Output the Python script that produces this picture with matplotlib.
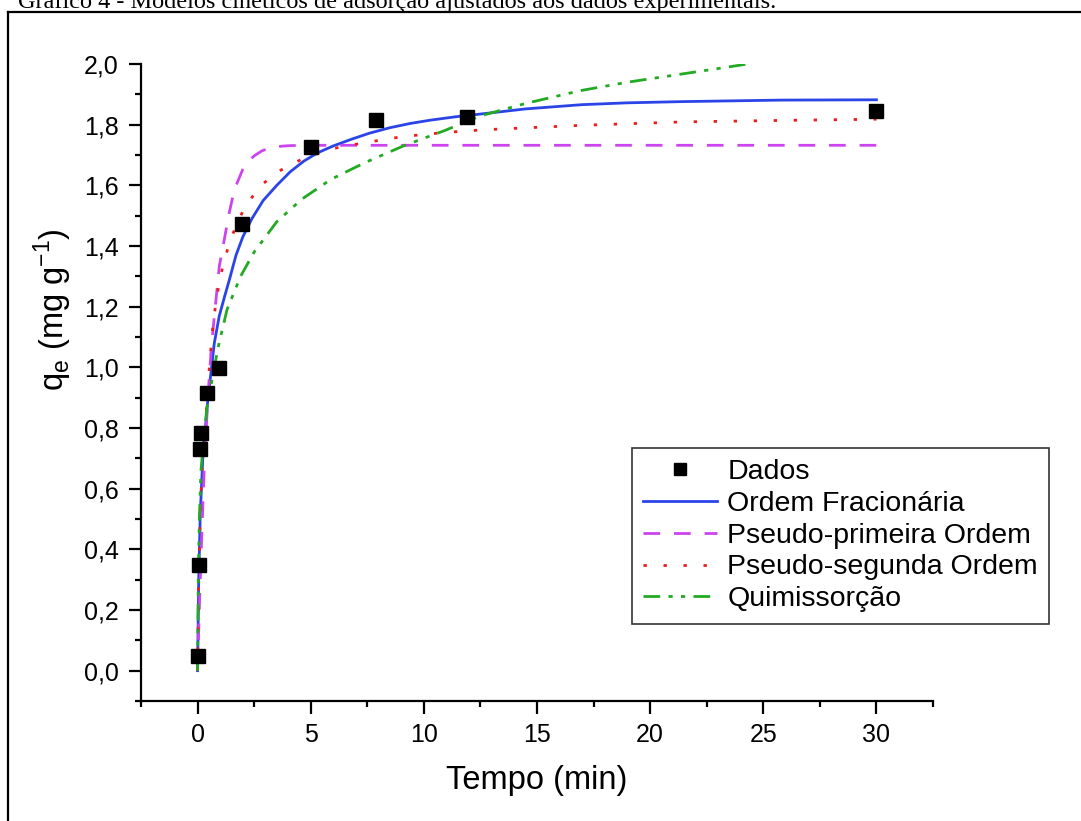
import matplotlib
matplotlib.use("Agg")
import matplotlib.pyplot as plt
from matplotlib.ticker import MultipleLocator, FuncFormatter
from matplotlib.lines import Line2D

plt.rcParams['font.family'] = ['Liberation Sans', 'DejaVu Sans']

# experimental points (tempo em min, qe em mg/g)
t_dados = [0, 0.05, 0.1, 0.17, 0.42, 0.93, 1.95, 5, 7.9, 11.9, 30]
q_dados = [0.05, 0.347, 0.73, 0.785, 0.917, 0.998, 1.471, 1.725, 1.815, 1.825, 1.845]

# model curves
t_frac = [0, 0.05, 0.12, 0.23, 0.45, 0.74, 0.96, 1.2, 1.41, 1.7, 2.0, 2.4, 2.9, 3.5, 4.1,
          4.7, 5.3, 6.0, 6.8, 7.6, 8.5, 9.4, 10.3, 11.4, 12.5, 14.5, 17, 19, 21.4, 25.8, 30]
q_frac = [0, 0.3, 0.52, 0.7, 0.89, 1.08, 1.17, 1.235, 1.29, 1.37, 1.43, 1.49, 1.55, 1.6,
          1.645, 1.68, 1.707, 1.73, 1.752, 1.772, 1.79, 1.804, 1.815, 1.826, 1.835, 1.852,
          1.866, 1.872, 1.876, 1.881, 1.882]

t_pfo = [0, 0.05, 0.1, 0.2, 0.3, 0.45, 0.6, 0.74, 0.96, 1.18, 1.4, 1.63, 2.0, 2.25, 2.5,
         2.85, 3.25, 3.7, 4.1, 5, 30]
q_pfo = [0, 0.13, 0.26, 0.48, 0.68, 0.893, 1.058, 1.168, 1.333, 1.421, 1.51, 1.587, 1.653,
         1.68, 1.697, 1.714, 1.724, 1.729, 1.731, 1.732, 1.732]

t_pso = [0, 0.05, 0.12, 0.23, 0.37, 0.52, 0.67, 0.82, 1.04, 1.4, 1.75, 2.1, 2.8, 3.6, 4.6,
         5.9, 7.4, 9.1, 10.9, 12.6, 17, 21.4, 25.8, 30]
q_pso = [0, 0.3, 0.52, 0.72, 0.84, 1.0, 1.13, 1.22, 1.31, 1.41, 1.475, 1.53, 1.6, 1.647,
         1.686, 1.72, 1.741, 1.761, 1.774, 1.783, 1.798, 1.809, 1.814, 1.818]

t_elov = [0, 0.03, 0.08, 0.15, 0.3, 0.45, 0.67, 0.89, 1.3, 1.9, 2.5, 3.5, 4.6, 5.9, 7.4,
          9.1, 10.9, 12.5, 14.5, 16.9, 19, 21.4, 23, 24.3]
q_elov = [0, 0.3, 0.5, 0.66, 0.79, 0.89, 0.97, 1.06, 1.19, 1.3, 1.38, 1.48, 1.554, 1.62,
          1.675, 1.73, 1.78, 1.829, 1.87, 1.912, 1.94, 1.967, 1.985, 2.0]

fig = plt.figure(figsize=(10.81, 8.21), dpi=100)
ax = fig.add_axes([141/1081, 120/821, 792/1081, 637/821])

# page caption (cut at the top) and frame around the figure
fig.text(18/1081, (821-8)/821, 'Gráfico 4 - Modelos cinéticos de adsorção ajustados aos dados experimentais.',
         family='Liberation Serif', fontsize=17.5, va='baseline', ha='left')
fig.add_artist(Line2D([8/1081, 1], [(821-12)/821]*2, color='black', lw=1.6, transform=fig.transFigure))
fig.add_artist(Line2D([8/1081]*2, [0, (821-12)/821], color='black', lw=1.6, transform=fig.transFigure))

ax.plot(t_dados, q_dados, 's', color='black', markersize=10.5, label='Dados', zorder=5)
ax.plot(t_frac, q_frac, '-', color='#2a44e8', lw=2, label='Ordem Fracionária')
ax.plot(t_pfo, q_pfo, color='#cc44ee', lw=2, dashes=(6, 5), label='Pseudo-primeira Ordem')
ax.plot(t_pso, q_pso, color='#ee1c1c', lw=2, dashes=(1.2, 6), label='Pseudo-segunda Ordem')
ax.plot(t_elov, q_elov, color='#22aa22', lw=2, dashes=(6, 3, 1.5, 3, 1.5, 3), label='Quimissorção')

ax.set_xlim(-2.5, 32.5)
ax.set_ylim(-0.1, 2.0)
ax.xaxis.set_major_locator(MultipleLocator(5))
ax.xaxis.set_minor_locator(MultipleLocator(2.5))
ax.yaxis.set_major_locator(MultipleLocator(0.2))
ax.yaxis.set_minor_locator(MultipleLocator(0.1))
ax.yaxis.set_major_formatter(FuncFormatter(lambda v, p: f'{v:.1f}'.replace('.', ',')))

for s in ['top', 'right']:
    ax.spines[s].set_visible(False)
for s in ['left', 'bottom']:
    ax.spines[s].set_linewidth(1.6)
ax.tick_params(which='major', length=9, width=1.6, labelsize=18, pad=7)
ax.tick_params(which='minor', length=4.5, width=1.6)

ax.set_xlabel('Tempo (min)', fontsize=23.5)
ax.set_ylabel(r'q$_\mathregular{e}$ (mg g$^\mathregular{-1}$)', fontsize=23.5)
ax.xaxis.set_label_coords(0.5, -0.1)
ax.yaxis.set_label_coords(-0.085, 0.614)

leg = ax.legend(loc='upper left', bbox_to_anchor=(632/1081, (821-448)/821),
                bbox_transform=fig.transFigure, borderaxespad=0, fontsize=20.5,
                frameon=True, fancybox=False, edgecolor='black', handlelength=2.6,
                handletextpad=0.35, labelspacing=0.2, borderpad=0.4, markerscale=0.8)
leg.get_frame().set_linewidth(1.2)

fig.savefig('out.png', dpi=100)
